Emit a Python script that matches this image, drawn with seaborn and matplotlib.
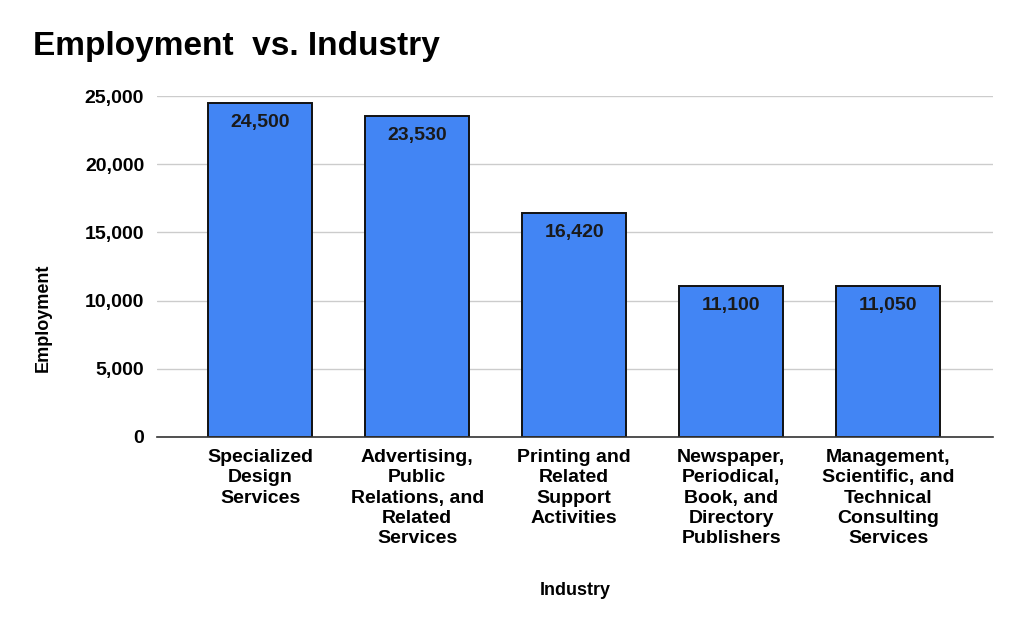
import matplotlib
matplotlib.use("Agg")
import matplotlib.pyplot as plt
import seaborn as sns
import pandas as pd

industries = [
    "Specialized\nDesign\nServices",
    "Advertising,\nPublic\nRelations, and\nRelated\nServices",
    "Printing and\nRelated\nSupport\nActivities",
    "Newspaper,\nPeriodical,\nBook, and\nDirectory\nPublishers",
    "Management,\nScientific, and\nTechnical\nConsulting\nServices",
]
employment = [24500, 23530, 16420, 11100, 11050]
y_ticks = [0, 5000, 10000, 15000, 20000, 25000]

df = pd.DataFrame({"Industry": industries, "Employment": employment})

sns.set_style("white")
plt.rcParams["font.family"] = ["Liberation Sans", "DejaVu Sans"]
plt.rcParams["font.weight"] = "bold"
plt.rcParams["text.color"] = "black"
plt.rcParams["axes.labelcolor"] = "black"
plt.rcParams["xtick.color"] = "black"
plt.rcParams["ytick.color"] = "black"

fig = plt.figure(figsize=(10.24, 6.33), dpi=100)
ax = fig.add_axes([0.153, 0.310, 0.817, 0.538])

sns.barplot(data=df, x="Industry", y="Employment", color="#4285F4",
            saturation=1, width=0.66, edgecolor="#111111", linewidth=1.4,
            ax=ax, zorder=3)

# value labels just inside the top of each bar
for patch, val in zip(ax.patches, employment):
    ax.annotate(f"{val:,}", xy=(patch.get_x() + patch.get_width() / 2,
                               patch.get_height()),
                xytext=(0, -14), textcoords="offset points",
                ha="center", va="center", fontsize=14, fontweight="bold",
                color="#1a1a1a", zorder=4)

ax.set_ylim(0, 25000)
ax.set_xlim(-0.66, 4.67)
ax.set_yticks(y_ticks)
ax.set_yticklabels([f"{t:,}" for t in y_ticks], fontsize=14,
                   fontweight="bold")
ax.set_xticks(range(len(industries)))
ax.set_xticklabels(industries, fontsize=14, fontweight="bold",
                   linespacing=1.24)
ax.tick_params(axis="both", length=0)
ax.tick_params(axis="x", pad=9)
ax.tick_params(axis="y", pad=9)

ax.grid(axis="y", color="#cccccc", linewidth=1, zorder=0)
for side in ["top", "right", "left"]:
    ax.spines[side].set_visible(False)
ax.spines["bottom"].set_color("#333333")
ax.spines["bottom"].set_linewidth(1.2)
ax.spines["bottom"].set_zorder(5)

ax.set_xlabel("Industry", fontsize=13, fontweight="bold")
ax.set_ylabel("Employment", fontsize=13, fontweight="bold")
ax.xaxis.set_label_coords(0.5, -0.425)
ax.yaxis.set_label_coords(-0.125, 0.35)

fig.text(33 / 1024, 1 - 47 / 633, "Employment  vs. Industry", fontsize=24,
         fontweight="bold", ha="left", va="center")

plt.savefig("out.png", dpi=100)
